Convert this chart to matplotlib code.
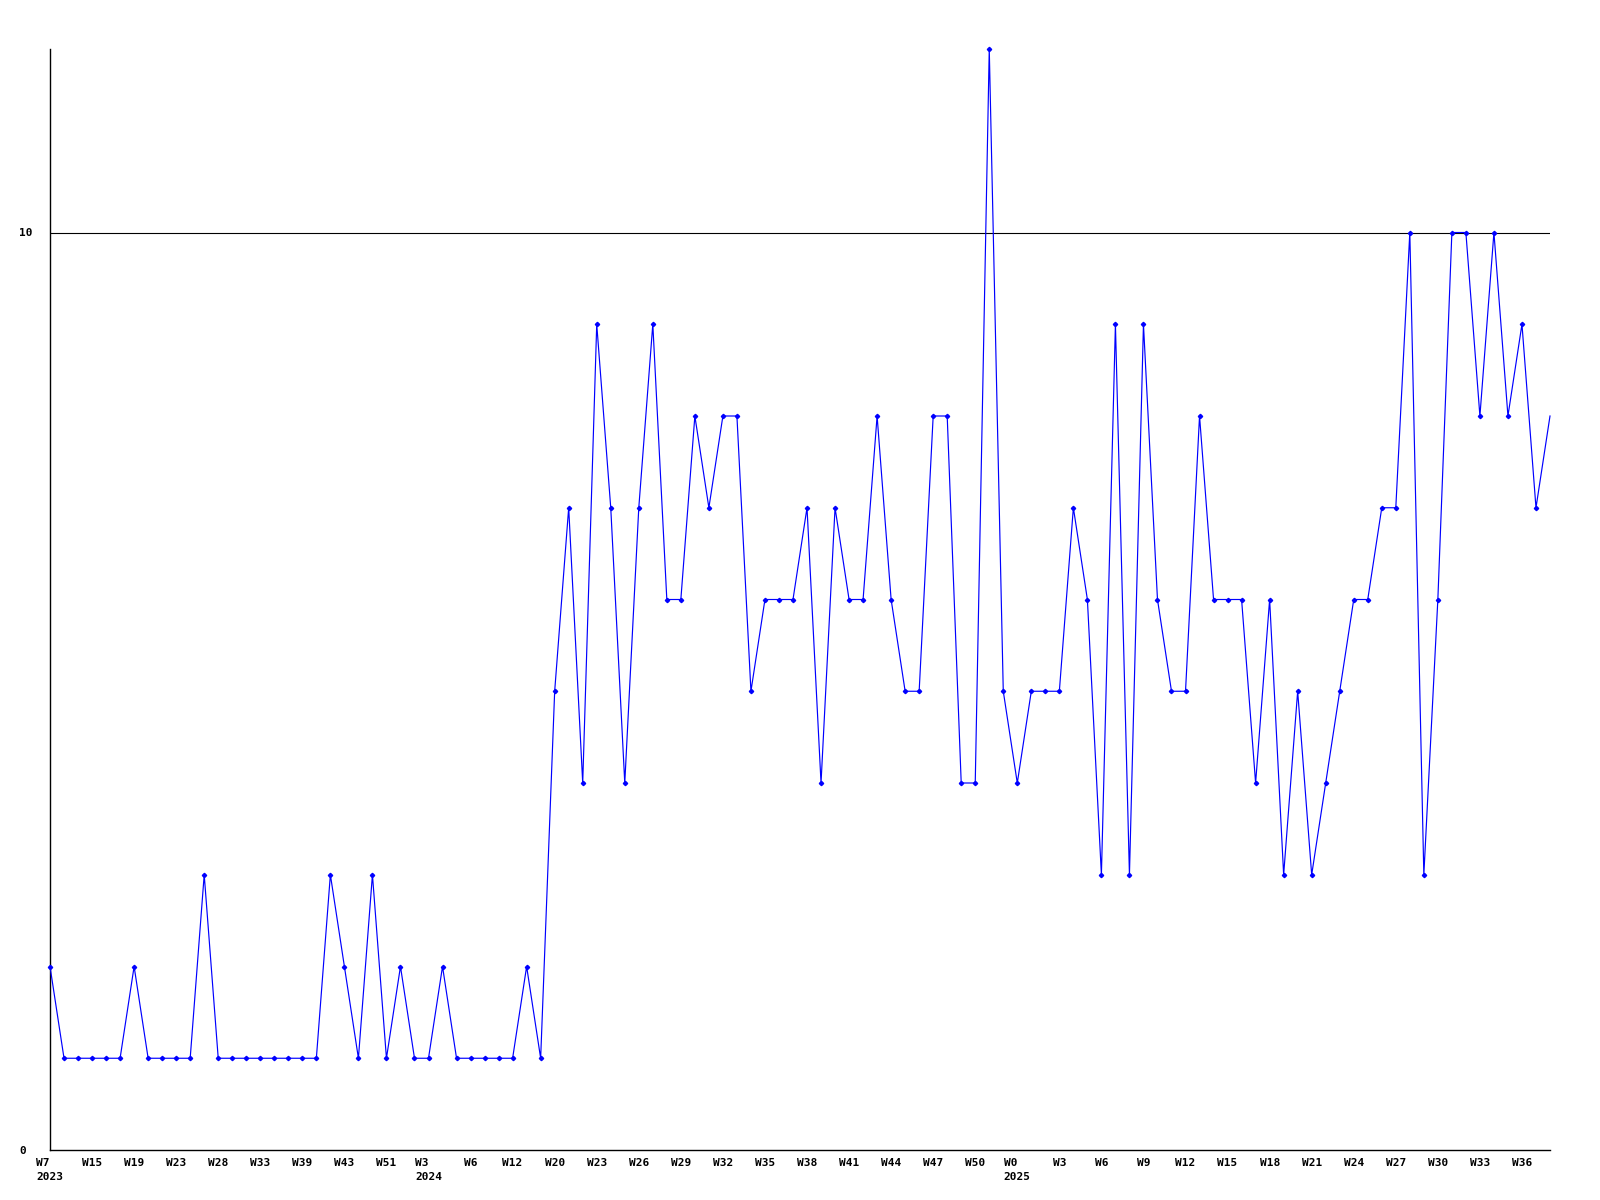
import numpy as np
import matplotlib
matplotlib.use("Agg")
import matplotlib.pyplot as plt

# 値（各点）
values = [2, 1, 1, 1, 1, 1, 2, 1, 1, 1, 1, 3, 1, 1, 1, 1, 1, 1, 1, 1,
          3, 2, 1, 3, 1, 2, 1, 1, 2, 1, 1, 1, 1, 1, 2, 1,
          5, 7, 4, 9, 7, 4, 7, 9, 6, 6, 8, 7, 8, 8, 5, 6, 6, 6, 7, 4,
          7, 6, 6, 8, 6, 5, 5, 8, 8, 4, 4, 12, 5, 4,
          5, 5, 5, 7, 6, 3, 9, 3, 9, 6, 5, 5, 8, 6, 6, 6, 4, 6, 3, 5,
          3, 4, 5, 6, 6, 7, 7, 10, 3, 6, 10, 10, 8, 10, 8, 9, 7, 8]

# 3点ごとの週ラベル
week_labels = ["W7", "W15", "W19", "W23", "W28", "W33", "W39", "W43", "W51",
               "W3", "W6", "W12", "W20", "W23", "W26", "W29", "W32", "W35",
               "W38", "W41", "W44", "W47", "W50",
               "W0", "W3", "W6", "W9", "W12", "W15", "W18", "W21", "W24",
               "W27", "W30", "W33", "W36"]
# 年ラベル（ラベル番号: 年）
year_marks = {0: "2023", 9: "2024", 23: "2025"}

y_ticks = [0, 10]

font = {"family": "DejaVu Sans Mono", "weight": "bold", "size": 8}

fig = plt.figure(figsize=(16, 12), dpi=100)
ax = fig.add_axes([50 / 1600, 1 - 1150 / 1200, 1500 / 1600, 1101 / 1200])

x = np.arange(len(values))
ax.plot(x, values, color="#0000ff", lw=0.85, marker="D", markersize=2.2,
        markevery=list(range(len(values) - 1)), clip_on=False, zorder=3)

ax.axhline(10, color="black", lw=0.8, zorder=2)

ax.set_xlim(0, len(values) - 1)
ax.set_ylim(0, 12)

# x軸のラベル
tick_pos = x[::3]
labels = []
for i, w in enumerate(week_labels):
    if i in year_marks:
        labels.append(w + "\n" + year_marks[i])
    else:
        labels.append(w)
ax.set_xticks(tick_pos)
ax.set_xticklabels(labels, fontdict=font, linespacing=1.45, ha="center",
                   multialignment="left")

ax.set_yticks(y_ticks)
ax.set_yticklabels([str(v) for v in y_ticks], fontdict=font, ha="left")
ax.tick_params(axis="x", length=0, pad=6)
ax.tick_params(axis="y", length=0, pad=22)

for s in ["top", "right"]:
    ax.spines[s].set_visible(False)
for s in ["left", "bottom"]:
    ax.spines[s].set_color("black")
    ax.spines[s].set_linewidth(1.0)

fig.savefig("out.png", dpi=100)
